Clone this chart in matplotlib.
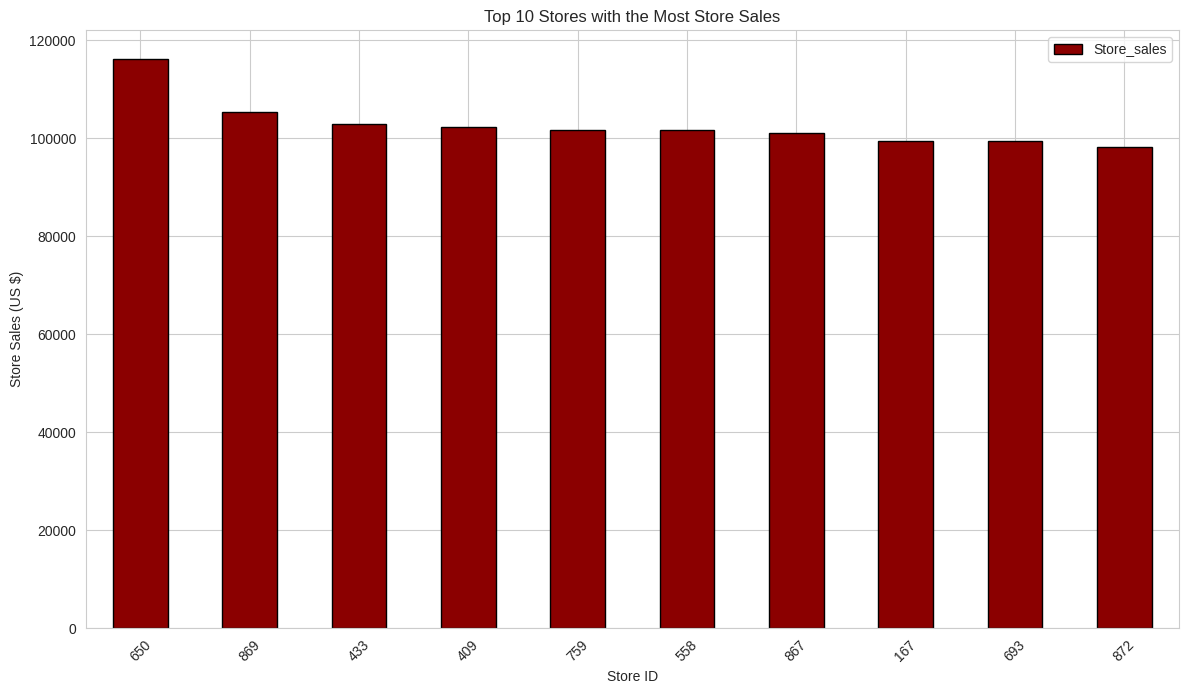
import numpy as np
import matplotlib.pyplot as plt
import seaborn as sns

sns.set_style('whitegrid')
plt.rcParams['font.family'] = ['Liberation Sans', 'DejaVu Sans']

store_ids = ['650', '869', '433', '409', '759', '558', '867', '167', '693', '872']
store_sales = [116300, 105300, 103000, 102400, 101800, 101800, 101000, 99530, 99530, 98300]

fig, ax = plt.subplots(figsize=(11.89, 6.9), dpi=100)
x = np.arange(len(store_ids))
ax.bar(x, store_sales, width=0.5, color='darkred', edgecolor='black', label='Store_sales')
ax.set_xticks(x)
ax.set_xticklabels(store_ids, rotation=45)
ax.set_xlim(-0.5, len(store_ids) - 0.5)
ax.set_title('Top 10 Stores with the Most Store Sales')
ax.set_xlabel('Store ID')
ax.set_ylabel('Store Sales (US $)')
ax.legend()
fig.subplots_adjust(left=0.072, right=0.9915, top=0.9565, bottom=0.0895)
plt.savefig('out.png')
